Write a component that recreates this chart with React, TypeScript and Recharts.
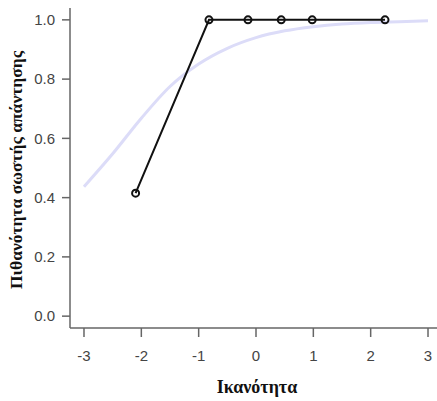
import React from 'react';
import { ComposedChart, Line, XAxis, YAxis, Label } from 'recharts';

// observed responses (ability estimate, proportion correct)
const respTheta = [-2.1, -0.82, -0.14, 0.44, 0.98, 2.25];
const respProb = [0.415, 1.0, 1.0, 1.0, 1.0, 1.0];

// item characteristic curve, read at half-unit steps
const iccTheta = [-3, -2.5, -2, -1.5, -1, -0.5, 0, 0.5, 1, 1.5, 2, 2.5, 3];
const iccProb = [0.437, 0.548, 0.668, 0.775, 0.851, 0.904, 0.94, 0.963, 0.977, 0.986, 0.991, 0.994, 0.997];

const xTicks = [-3, -2, -1, 0, 1, 2, 3];
const yTicks = [0, 0.2, 0.4, 0.6, 0.8, 1.0];

const xTitle = 'Ικανότητα';
const yTitle = 'Πιθανότητα σωστής απάντησης';

const respData = respTheta.map((x, i) => ({ x, y: respProb[i] }));
const iccData = iccTheta.map((x, i) => ({ x, y: iccProb[i] }));

const tickStyle = { fontFamily: '"Liberation Sans", Arial, sans-serif', fontSize: 15, fill: '#444' };
const titleStyle = { fontFamily: '"Liberation Serif", "Times New Roman", serif', fontWeight: 700, fill: '#111' };
const frame = '#666';

export default function App() {
  return (
    <div style={{ position: 'absolute', left: 0, top: 0, width: 437, height: 401, overflow: 'hidden', background: '#fff' }}>
      <ComposedChart width={445} height={401} margin={{ top: 8, right: 3, bottom: 0, left: 0 }}>
        <XAxis
          xAxisId="top"
          orientation="top"
          type="number"
          dataKey="x"
          domain={[-3.244, 3.244]}
          allowDataOverflow
          height={0}
          tick={false}
          tickLine={false}
          axisLine={{ stroke: frame, strokeWidth: 1.5 }}
        />
        <XAxis
          type="number"
          dataKey="x"
          domain={[-3.244, 3.244]}
          allowDataOverflow
          ticks={xTicks}
          tickFormatter={(v: number) => String(v)}
          height={73}
          tickSize={9}
          tickMargin={13}
          tick={tickStyle}
          tickLine={{ stroke: frame, strokeWidth: 1.5 }}
          axisLine={{ stroke: frame, strokeWidth: 1.5 }}
        >
          <Label
            content={() => (
              <text x={257} y={393} textAnchor="middle" style={{ ...titleStyle, fontSize: 18 }}>
                {xTitle}
              </text>
            )}
          />
        </XAxis>
        <YAxis
          type="number"
          domain={[-0.04, 1.04]}
          allowDataOverflow
          ticks={yTicks}
          tickFormatter={(v: number) => v.toFixed(1)}
          width={70}
          tickSize={8}
          tickMargin={7}
          tick={tickStyle}
          tickLine={{ stroke: frame, strokeWidth: 1.5 }}
          axisLine={{ stroke: frame, strokeWidth: 1.5 }}
        >
          <Label
            content={() => (
              <text x={22} y={170} transform="rotate(-90 22 170)" textAnchor="middle" style={{ ...titleStyle, fontSize: 17.5 }}>
                {yTitle}
              </text>
            )}
          />
        </YAxis>
        <Line
          data={iccData}
          dataKey="y"
          type="monotone"
          stroke="#dcdcf8"
          strokeWidth={3}
          dot={false}
          activeDot={false}
          isAnimationActive={false}
        />
        <Line
          data={respData}
          dataKey="y"
          type="linear"
          stroke="#111"
          strokeWidth={2}
          dot={{ r: 3.5, stroke: '#111', strokeWidth: 2, fill: 'none' }}
          activeDot={false}
          isAnimationActive={false}
        />
      </ComposedChart>
    </div>
  );
}
